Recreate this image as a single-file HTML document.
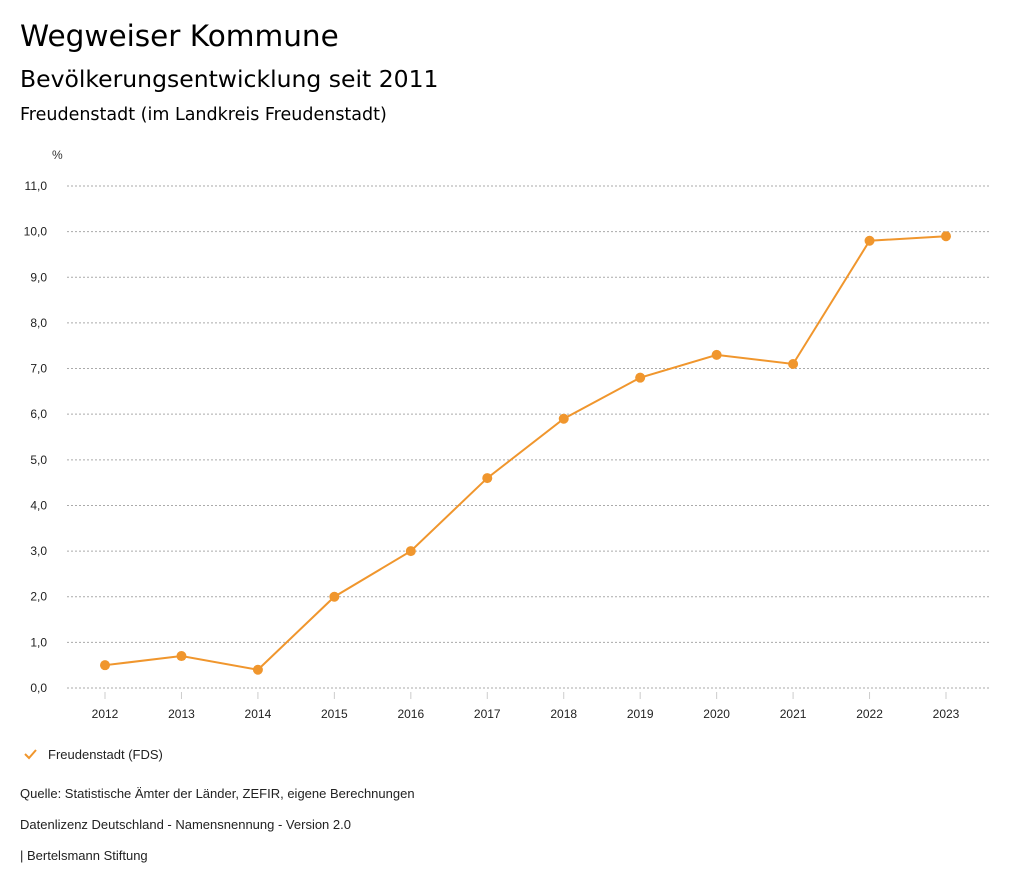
<!DOCTYPE html>
<html><head><meta charset="utf-8"><style>
body{margin:0;background:#fff;font-family:"Liberation Sans","DejaVu Sans",sans-serif;color:#000;}
#wrap{position:relative;width:1024px;height:888px;overflow:hidden;}
.t{position:absolute;white-space:nowrap;}
.h{font-family:"DejaVu Sans","Liberation Sans",sans-serif;}
</style></head><body><div id="wrap">
<div class="t h" style="left:20px;top:19px;font-size:29.5px;">Wegweiser Kommune</div>
<div class="t h" style="left:20px;top:65px;font-size:23.5px;">Bevölkerungsentwicklung seit 2011</div>
<div class="t h" style="left:20px;top:105px;font-size:17.5px;">Freudenstadt (im Landkreis Freudenstadt)</div>
<svg id="chart" width="1024" height="888" style="position:absolute;left:0;top:0"></svg>
<div class="t" style="left:20px;top:786px;font-size:13px;color:#222;">Quelle: Statistische Ämter der Länder, ZEFIR, eigene Berechnungen</div>
<div class="t" style="left:20px;top:817px;font-size:13px;color:#222;">Datenlizenz Deutschland - Namensnennung - Version 2.0</div>
<div class="t" style="left:20px;top:848px;font-size:13px;color:#222;">| Bertelsmann Stiftung</div>
</div>
<script>
const years=["2012","2013","2014","2015","2016","2017","2018","2019","2020","2021","2022","2023"];
const values=[0.5,0.7,0.4,2.0,3.0,4.6,5.9,6.8,7.3,7.1,9.8,9.9];
const yTicks=[0,1,2,3,4,5,6,7,8,9,10,11];
const svg=document.getElementById('chart');
const NS='http://www.w3.org/2000/svg';
function x(i){return 105+i*(946-105)/(years.length-1);}
function y(v){return 688-v*(688-186)/11;}
function el(t,a){const e=document.createElementNS(NS,t);for(const k in a)e.setAttribute(k,a[k]);svg.appendChild(e);return e;}
let u=el('text',{x:52,y:159,'font-size':12,fill:'#333'});u.textContent='%';


yTicks.forEach(v=>{
 const g=el('line',{x1:67,x2:990,y1:y(v),y2:y(v),stroke:'#aaa','stroke-dasharray':'2,2','stroke-width':1});
 
 
 const t=el('text',{x:47,y:y(v)+4,'text-anchor':'end','font-size':12,fill:'#222'});
 t.textContent=v.toFixed(1).replace('.',',');
 
 
});
years.forEach((yr,i)=>{
 const tk=el('line',{x1:x(i),x2:x(i),y1:692,y2:699,stroke:'#ccc'});
 
 
 const t=el('text',{x:x(i),y:718,'text-anchor':'middle','font-size':12,fill:'#222'});
 t.textContent=yr;
 
 
});
const p=el('polyline',{points:values.map((v,i)=>x(i)+','+y(v)).join(' '),fill:'none',stroke:'#f0962d','stroke-width':2});


values.forEach((v,i)=>{
 const c=el('circle',{cx:x(i),cy:y(v),r:5,fill:'#f0962d'});
 
 
});
const lm=el('polyline',{points:'25,754 29,758 36,750',fill:'none',stroke:'#f0962d','stroke-width':2});


const lt=el('text',{x:48,y:759,'font-size':13,fill:'#222'});lt.textContent='Freudenstadt (FDS)';


</script></body></html>
